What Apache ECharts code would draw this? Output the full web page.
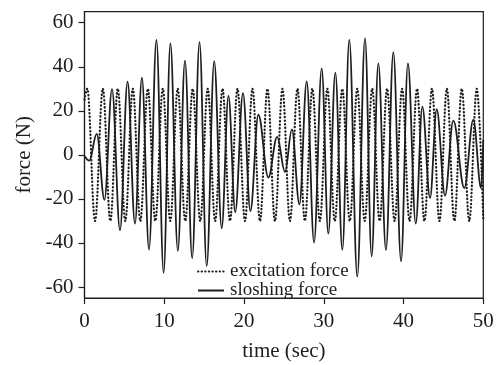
<!DOCTYPE html>
<html>
<head>
<meta charset="utf-8">
<script src="https://cdn.jsdelivr.net/npm/echarts@6/dist/echarts.min.js"></script>
<style>
html,body{margin:0;padding:0;background:#fff;}
#c{width:502px;height:365px;}
</style>
</head>
<body>
<div id="c"></div>
<script>
// x ticks / y ticks
const xTicks = [0, 10, 20, 30, 40, 50];
const yTicks = [-60, -40, -20, 0, 20, 40, 60];

// excitation force: extrema (time in s, force in N)
const exTime = [0, 0.35, 1.32, 2.3, 3.24, 4.18, 5.12, 6.06, 7.0, 7.94, 8.88, 9.82, 10.75, 11.69, 12.63, 13.57, 14.51, 15.45, 16.38, 17.3, 18.24, 19.18, 20.12, 21.06, 22.0, 22.94, 23.88, 24.82, 25.76, 26.7, 27.63, 28.57, 29.51, 30.45, 31.38, 32.32, 33.26, 34.2, 35.13, 36.07, 37.0, 37.94, 38.88, 39.82, 40.75, 41.69, 42.62, 43.56, 44.5, 45.43, 46.37, 47.3, 48.24, 49.18, 50];
const exForce = [25, 30, -30, 30, -30, 30, -30, 30, -30, 30, -30, 30, -30, 30, -30, 30, -30, 30, -30, 30, -30, 30, -30, 30, -30, 30, -30, 30, -30, 30, -30, 30, -30, 30, -30, 30, -30, 30, -30, 30, -30, 30, -30, 30, -30, 30, -30, 30, -30, 30, -30, 30, -30, 30, -29.5];

// sloshing force: extrema (time in s, force in N)
const slTime = [0, 0.6, 1.53, 2.5, 3.45, 4.45, 5.4, 6.33, 7.2, 8.09, 9.02, 9.92, 10.77, 11.7, 12.6, 13.5, 14.42, 15.32, 16.26, 17.2, 18.05, 18.9, 19.87, 20.8, 21.8, 23.05, 24.15, 25.14, 26.0, 26.95, 27.86, 28.78, 29.74, 30.57, 31.45, 32.33, 33.2, 34.2, 35.17, 36.0, 36.84, 37.8, 38.72, 39.69, 40.55, 41.53, 42.36, 43.32, 44.16, 45.2, 46.24, 47.62, 48.75, 49.72, 50];
const slForce = [-0.5, -2.6, 9.5, -20.4, 29.8, -34.2, 33.2, -31.2, 35.0, -43, 52.2, -53.6, 50.6, -43.6, 42.8, -46.9, 51.2, -50.5, 42.5, -33.3, 26.8, -26, 28, -25.5, 18.2, -10.3, 8.2, -7.8, 11.6, -22.5, 33.4, -39.8, 39.3, -35.8, 37.3, -43.1, 52.2, -55.3, 52.9, -46.1, 41.5, -43.2, 46.6, -48.4, 41.5, -31.2, 21.9, -19.6, 20.7, -18.5, 15.5, -15.1, 16.0, -15.1, 6.8];

const seriesNames = ['excitation force', 'sloshing force'];

const ink = '#1e1e1e';
const font = '"Liberation Serif", "Times New Roman", serif';

const exData = exTime.map((t, i) => [t, exForce[i]]);
const slData = slTime.map((t, i) => [t, slForce[i]]);

const chart = echarts.init(document.getElementById('c'), null, {renderer: 'canvas'});
chart.setOption({
  animation: false,
  backgroundColor: '#fff',
  textStyle: {fontFamily: font, color: ink},
  grid: {left: 84.5, right: 18.7, top: 11.7, bottom: 67, containLabel: false, outerBoundsMode: 'none', show: true, borderColor: ink, borderWidth: 1.2, backgroundColor: 'transparent'},
  legend: {
    orient: 'vertical',
    left: 197,
    top: 262,
    padding: 0,
    itemGap: 0,
    itemWidth: 26,
    itemHeight: 10,
    itemStyle: {opacity: 0},
    textStyle: {fontFamily: font, fontSize: 19, color: ink, lineHeight: 17, padding: [0, 0, 0, 1]},
    data: seriesNames
  },
  xAxis: {
    type: 'value',
    min: xTicks[0], max: xTicks[xTicks.length - 1], interval: 10,
    axisLine: {onZero: false, lineStyle: {color: ink, width: 1.2}},
    axisTick: {show: true, inside: false, length: 6, lineStyle: {color: ink, width: 1.2}},
    axisLabel: {fontFamily: font, fontSize: 21, color: ink, margin: 13},
    splitLine: {show: false},
    name: 'time (sec)', nameLocation: 'middle', nameGap: 43,
    nameTextStyle: {fontFamily: font, fontSize: 21, color: ink}
  },
  yAxis: {
    type: 'value',
    min: -65, max: 65,
    axisLine: {show: true, onZero: false, lineStyle: {color: ink, width: 1.2}},
    axisTick: {show: true, inside: false, length: 6, customValues: yTicks, lineStyle: {color: ink, width: 1.2}},
    axisLabel: {fontFamily: font, fontSize: 21, color: ink, margin: 11, customValues: yTicks},
    splitLine: {show: false},
    name: 'force (N)', nameLocation: 'middle', nameGap: 49,
    nameTextStyle: {fontFamily: font, fontSize: 21, color: ink}
  },
  series: [
    {
      name: seriesNames[0], type: 'line', data: exData,
      symbol: 'none', smooth: 0.37, smoothMonotone: 'x',
      lineStyle: {color: ink, width: 2.2, type: [0.4, 3.2], cap: 'round'},
      itemStyle: {color: ink, opacity: 0}
    },
    {
      name: seriesNames[1], type: 'line', data: slData,
      symbol: 'none', smooth: 0.37, smoothMonotone: 'x',
      lineStyle: {color: ink, width: 1.8, type: 'solid'},
      itemStyle: {color: ink, opacity: 0}
    }
  ]
});
</script>
</body>
</html>
